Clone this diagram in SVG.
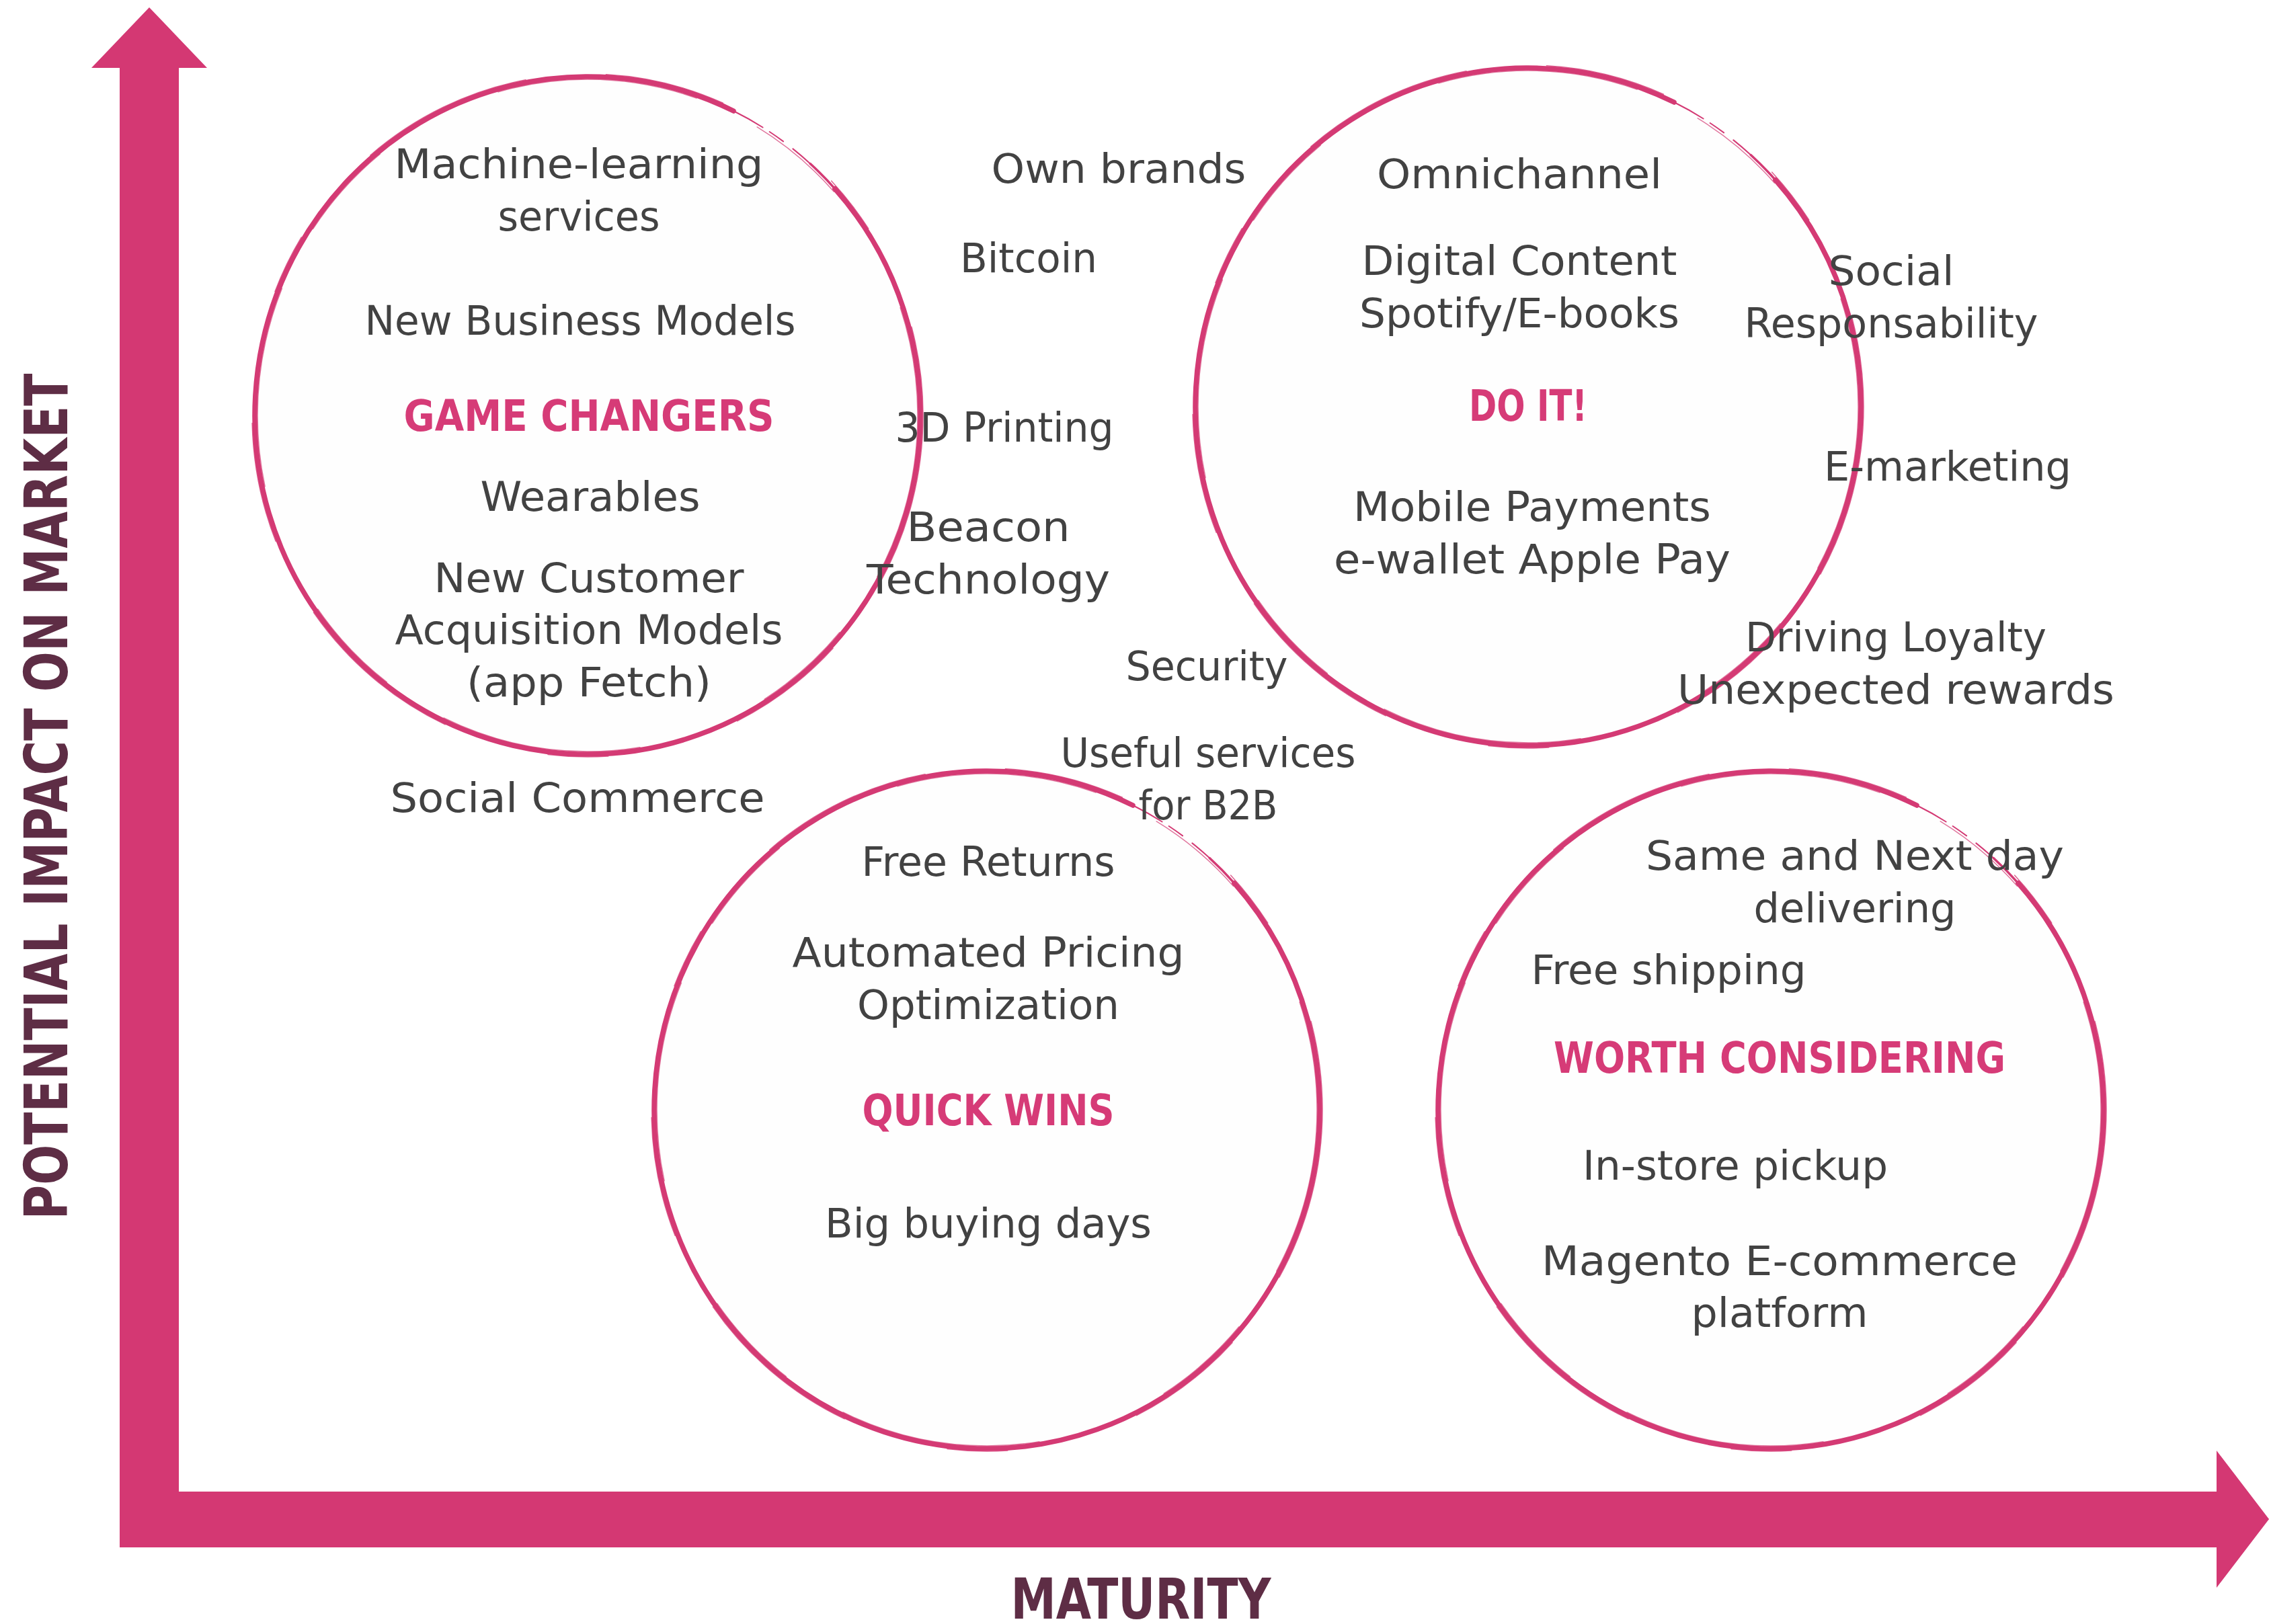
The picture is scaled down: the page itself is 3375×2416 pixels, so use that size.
<svg xmlns="http://www.w3.org/2000/svg" xmlns:xlink="http://www.w3.org/1999/xlink" width="3375" height="2416" viewBox="0 0 3375 2416">
  <style>
    .t { font-family: "DejaVu Sans", "Liberation Sans", sans-serif; font-size: 61px; fill: #424242; text-anchor: middle; }
    .h { font-family: "DejaVu Sans", "Liberation Sans", sans-serif; font-size: 64px; font-weight: bold; fill: #d63b77; text-anchor: middle; }
    .ax { font-family: "DejaVu Sans Condensed", "DejaVu Sans", sans-serif; font-weight: bold; fill: #5e2d45; text-anchor: middle; }
    .brush { fill: none; stroke: #d43a74; stroke-linecap: round; }
  </style>
  <defs>
    <!-- hand-brushed ring, centred on the origin -->
    <g id="ring">
      <ellipse rx="495" ry="504" fill="#fefefe"/>
      <path class="brush" stroke-width="7.5" d="M 367.9,-337.2 A 495 504 0 1 1 217.0,-453.0"/>
      <path class="brush" stroke-width="2" stroke-dasharray="50 12 25 18 40 10" d="M 217.0,-453.0 A 495 504 0 0 1 331.2,-374.5"/>
      <path class="brush" stroke-width="3.5" d="M 331.2,-374.5 A 495 504 0 0 1 367.9,-337.2"/>
      <ellipse class="brush" rx="499" ry="508" stroke-width="1.5" stroke-dasharray="260 120 180 200 90 160" opacity="0.8"/>
      <ellipse class="brush" rx="491" ry="500" stroke-width="1.5" stroke-dasharray="150 200 300 100" stroke-dashoffset="400" opacity="0.7"/>
    </g>
  </defs>

  <rect width="3375" height="2416" fill="#ffffff"/>

  <!-- axes -->
  <g id="connectors">
    <polygon fill="#d43873" points="222,11 308,101 266,101 266,2219 3297,2219 3297,2158 3375,2260 3297,2362 3297,2302 178,2302 178,101 136,101"/>
  </g>

  <g id="axis-labels">
    <text class="ax" font-size="89" transform="rotate(-90)" x="-1185" y="100" textLength="1259" lengthAdjust="spacingAndGlyphs">POTENTIAL IMPACT ON MARKET</text>
    <text class="ax" font-size="84" x="1697" y="2408" textLength="387" lengthAdjust="spacingAndGlyphs">MATURITY</text>
  </g>

  <!-- quadrant: game changers -->
  <g id="game-changers">
    <use xlink:href="#ring" href="#ring" transform="translate(874,618)"/>
    <text class="t" x="861" y="265" textLength="549" lengthAdjust="spacingAndGlyphs">Machine-learning</text>
    <text class="t" x="861" y="343" textLength="241" lengthAdjust="spacingAndGlyphs">services</text>
    <text class="t" x="863" y="498" textLength="641" lengthAdjust="spacingAndGlyphs">New Business Models</text>
    <text class="h" x="876" y="641" textLength="551" lengthAdjust="spacingAndGlyphs">GAME CHANGERS</text>
    <text class="t" x="878" y="760" textLength="327" lengthAdjust="spacingAndGlyphs">Wearables</text>
    <text class="t" x="876" y="881" textLength="461" lengthAdjust="spacingAndGlyphs">New Customer</text>
    <text class="t" x="876" y="958" textLength="577" lengthAdjust="spacingAndGlyphs">Acquisition Models</text>
    <text class="t" x="876" y="1036" textLength="364" lengthAdjust="spacingAndGlyphs">(app Fetch)</text>
  </g>

  <!-- quadrant: do it -->
  <g id="do-it">
    <use xlink:href="#ring" href="#ring" transform="translate(2273,605)"/>
    <text class="t" x="2260" y="280" textLength="424" lengthAdjust="spacingAndGlyphs">Omnichannel</text>
    <text class="t" x="2260" y="409" textLength="469" lengthAdjust="spacingAndGlyphs">Digital Content</text>
    <text class="t" x="2260" y="487" textLength="476" lengthAdjust="spacingAndGlyphs">Spotify/E-books</text>
    <text class="h" x="2273" y="626" textLength="176" lengthAdjust="spacingAndGlyphs">DO IT!</text>
    <text class="t" x="2279" y="775" textLength="532" lengthAdjust="spacingAndGlyphs">Mobile Payments</text>
    <text class="t" x="2279" y="853" textLength="590" lengthAdjust="spacingAndGlyphs">e-wallet Apple Pay</text>
  </g>

  <!-- quadrant: quick wins -->
  <g id="quick-wins">
    <use xlink:href="#ring" href="#ring" transform="translate(1468,1651)"/>
    <text class="t" x="1470" y="1303" textLength="377" lengthAdjust="spacingAndGlyphs">Free Returns</text>
    <text class="t" x="1470" y="1438" textLength="583" lengthAdjust="spacingAndGlyphs">Automated Pricing</text>
    <text class="t" x="1470" y="1516" textLength="390" lengthAdjust="spacingAndGlyphs">Optimization</text>
    <text class="h" x="1470" y="1674" textLength="375" lengthAdjust="spacingAndGlyphs">QUICK WINS</text>
    <text class="t" x="1470" y="1841" textLength="486" lengthAdjust="spacingAndGlyphs">Big buying days</text>
  </g>

  <!-- quadrant: worth considering -->
  <g id="worth-considering">
    <use xlink:href="#ring" href="#ring" transform="translate(2634,1651)"/>
    <text class="t" x="2759" y="1294" textLength="622" lengthAdjust="spacingAndGlyphs">Same and Next day</text>
    <text class="t" x="2759" y="1372" textLength="301" lengthAdjust="spacingAndGlyphs">delivering</text>
    <text class="t" x="2482" y="1464" textLength="409" lengthAdjust="spacingAndGlyphs">Free shipping</text>
    <text class="h" x="2647" y="1596" textLength="672" lengthAdjust="spacingAndGlyphs">WORTH CONSIDERING</text>
    <text class="t" x="2581" y="1755" textLength="454" lengthAdjust="spacingAndGlyphs">In-store pickup</text>
    <text class="t" x="2647" y="1897" textLength="708" lengthAdjust="spacingAndGlyphs">Magento E-commerce</text>
    <text class="t" x="2647" y="1974" textLength="263" lengthAdjust="spacingAndGlyphs">platform</text>
  </g>

  <!-- items between the quadrants -->
  <g id="social-commerce"><text class="t" x="859" y="1208" textLength="557" lengthAdjust="spacingAndGlyphs">Social Commerce</text></g>
  <g id="own-brands"><text class="t" x="1664" y="272" textLength="379" lengthAdjust="spacingAndGlyphs">Own brands</text></g>
  <g id="bitcoin"><text class="t" x="1530" y="405" textLength="204" lengthAdjust="spacingAndGlyphs">Bitcoin</text></g>
  <g id="printing-3d"><text class="t" x="1494" y="657" textLength="325" lengthAdjust="spacingAndGlyphs">3D Printing</text></g>
  <g id="beacon">
    <text class="t" x="1470" y="805" textLength="243" lengthAdjust="spacingAndGlyphs">Beacon</text>
    <text class="t" x="1470" y="883" textLength="362" lengthAdjust="spacingAndGlyphs">Technology</text>
  </g>
  <g id="security"><text class="t" x="1795" y="1012" textLength="241" lengthAdjust="spacingAndGlyphs">Security</text></g>
  <g id="b2b-services">
    <text class="t" x="1797" y="1141" textLength="439" lengthAdjust="spacingAndGlyphs">Useful services</text>
    <text class="t" x="1797" y="1219" textLength="207" lengthAdjust="spacingAndGlyphs">for B2B</text>
  </g>
  <g id="social-responsability">
    <text class="t" x="2813" y="424" textLength="187" lengthAdjust="spacingAndGlyphs">Social</text>
    <text class="t" x="2813" y="502" textLength="437" lengthAdjust="spacingAndGlyphs">Responsability</text>
  </g>
  <g id="e-marketing"><text class="t" x="2897" y="715" textLength="368" lengthAdjust="spacingAndGlyphs">E-marketing</text></g>
  <g id="driving-loyalty">
    <text class="t" x="2820" y="969" textLength="448" lengthAdjust="spacingAndGlyphs">Driving Loyalty</text>
    <text class="t" x="2820" y="1047" textLength="650" lengthAdjust="spacingAndGlyphs">Unexpected rewards</text>
  </g>
</svg>
